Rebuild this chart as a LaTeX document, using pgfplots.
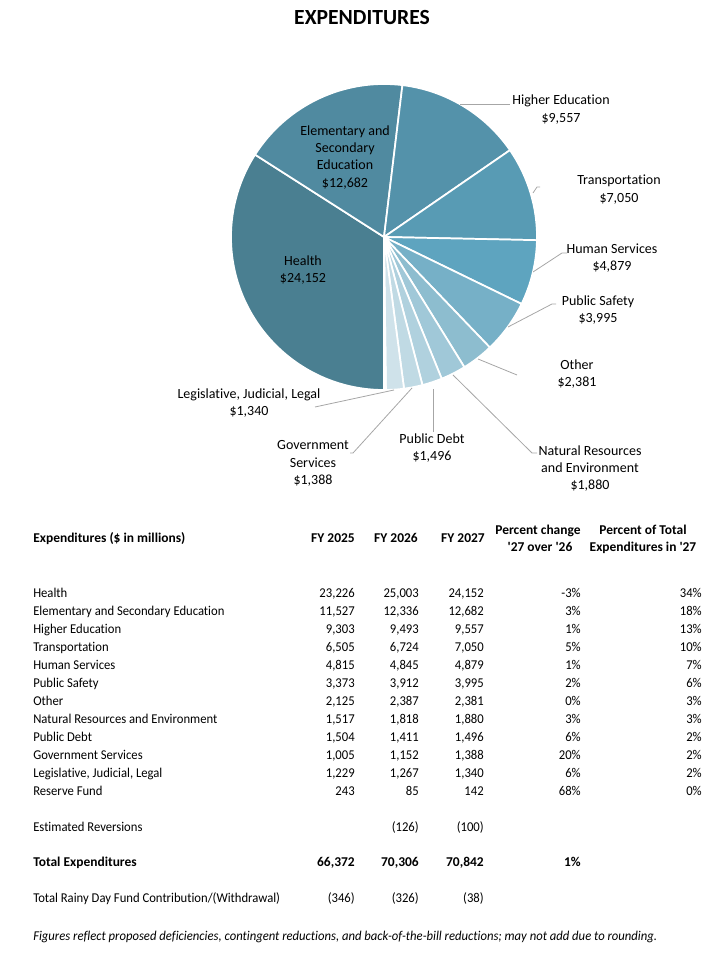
\documentclass[border=0pt]{standalone}
\usepackage{pgfplots}
\pgfplotsset{compat=1.18}
\usepackage{pgfplotstable}
\usepackage{fontspec}
\setmainfont[Ligatures=NoCommon]{Carlito}
\newfontfamily\tabfont[Ligatures=NoCommon,FakeStretch=0.94]{Carlito}

\definecolor{c0}{RGB}{74,127,145}
\definecolor{c1}{RGB}{80,138,160}
\definecolor{c2}{RGB}{84,146,170}
\definecolor{c3}{RGB}{88,155,180}
\definecolor{c4}{RGB}{94,164,191}
\definecolor{c5}{RGB}{118,176,199}
\definecolor{c6}{RGB}{141,189,207}
\definecolor{c7}{RGB}{160,200,216}
\definecolor{c8}{RGB}{176,209,222}
\definecolor{c9}{RGB}{192,218,228}
\definecolor{c10}{RGB}{207,226,234}
\definecolor{c11}{RGB}{222,235,241}
\definecolor{lead}{RGB}{166,166,166}

% FY 2027 expenditures ($ millions) shown in the pie
\pgfplotstableread[col sep=semicolon]{
name;v
Health;24152
Elementary and Secondary Education;12682
Higher Education;9557
Transportation;7050
Human Services;4879
Public Safety;3995
Other;2381
Natural Resources and Environment;1880
Public Debt;1496
Government Services;1388
Legislative, Judicial, Legal;1340
Reserve Fund;142
}\piedata

\pgfplotstablegetrowsof{\piedata}
\pgfmathtruncatemacro\N{\pgfplotsretval-1}
\gdef\tot{0}
\foreach \i in {0,...,\N}{\pgfplotstablegetelem{\i}{v}\of\piedata\xdef\tot{\fpeval{\tot+\pgfplotsretval}}}
\gdef\cur{270}
\foreach \i in {0,...,\N}{%
  \pgfplotstablegetelem{\i}{v}\of\piedata
  \expandafter\xdef\csname ps\i\endcsname{\cur}%
  \xdef\cur{\fpeval{round(\cur-360*\pgfplotsretval/\tot,4)}}%
  \expandafter\xdef\csname pe\i\endcsname{\cur}}

\newcommand\lab[3]{\node[anchor=base,inner sep=0pt,font=\fontsize{10.5}{12}\selectfont] at (axis cs:#1,-#2) {#3};}
\newcommand\tf{\fontsize{10.1}{12}\selectfont}
\newcommand\tr{\tabfont\fontsize{10.1}{12}\selectfont}
\newcommand\trow[7]{%
  \node[anchor=base west,inner sep=0pt,font=\tr] at (axis cs:33,-#1) {#2};
  \node[anchor=base east,inner sep=0pt,font=\tr] at (axis cs:355,-#1) {#3};
  \node[anchor=base east,inner sep=0pt,font=\tr] at (axis cs:419,-#1) {#4};
  \node[anchor=base east,inner sep=0pt,font=\tr] at (axis cs:484,-#1) {#5};
  \node[anchor=base east,inner sep=0pt,font=\tr] at (axis cs:581,-#1) {#6};
  \node[anchor=base east,inner sep=0pt,font=\tr] at (axis cs:702,-#1) {#7};}

\begin{document}
\begin{tikzpicture}
\begin{axis}[x=0.75pt, y=0.75pt, xmin=0, xmax=720, ymin=-956, ymax=0,
  hide axis, clip=false]
\draw[draw=none] (axis cs:0,0) rectangle (axis cs:720,-956);
% pie slices
\pgfplotsinvokeforeach{0,...,11}{
  \fill[c#1, draw=white, line width=1.3pt, line join=round]
    (axis cs:384,-237) -- ++(\csname ps#1\endcsname:114.75pt)
    arc[start angle=\csname ps#1\endcsname, end angle=\csname pe#1\endcsname, radius=114.75pt] -- cycle;
}
% title
\node[anchor=base,inner sep=0pt,font=\fontsize{16.2}{18}\selectfont\bfseries] at (axis cs:362,-25) {EXPENDITURES};
% leader lines
\begin{scope}[lead, line width=0.6pt]
\draw (axis cs:460,-104) -- (axis cs:510,-104);
\draw (axis cs:533,-193) -- (axis cs:537,-187) -- (axis cs:540,-187);
\draw (axis cs:533,-272) -- (axis cs:562,-253) -- (axis cs:567,-253);
\draw (axis cs:508,-327) -- (axis cs:552,-304) -- (axis cs:556,-304);
\draw (axis cs:478,-359) -- (axis cs:517,-375);
\draw (axis cs:453,-375) -- (axis cs:532,-453) -- (axis cs:537,-453);
\draw (axis cs:433,-389) -- (axis cs:433,-432);
\draw (axis cs:412,-388) -- (axis cs:353,-453) -- (axis cs:350,-453);
\draw (axis cs:394,-390) -- (axis cs:315,-407);
\end{scope}
% pie labels
\lab{303}{265.5}{Health}\lab{303}{282.5}{\$24,152}
\lab{345}{136}{Elementary and}\lab{345}{153}{Secondary}\lab{345}{170}{Education}\lab{345}{187.5}{\$12,682}
\lab{561}{105}{Higher Education}\lab{561}{123}{\$9,557}
\lab{619}{185}{Transportation}\lab{619}{203}{\$7,050}
\lab{612}{254}{Human Services}\lab{612}{271}{\$4,879}
\lab{598}{306}{Public Safety}\lab{598}{323}{\$3,995}
\lab{577}{370}{Other}\lab{577}{387}{\$2,381}
\lab{590}{456}{Natural Resources}\lab{590}{473}{and Environment}\lab{590}{490}{\$1,880}
\lab{432}{444}{Public Debt}\lab{432}{461}{\$1,496}
\lab{313}{450}{Government}\lab{313}{468}{Services}\lab{313}{485}{\$1,388}
\lab{249}{399}{Legislative, Judicial, Legal}\lab{249}{416}{\$1,340}
% table header
\node[anchor=base west,inner sep=0pt,font=\tf\bfseries] at (axis cs:33,-543) {Expenditures (\$ in millions)};
\node[anchor=base east,inner sep=0pt,font=\tf\bfseries] at (axis cs:355,-543) {FY 2025};
\node[anchor=base east,inner sep=0pt,font=\tf\bfseries] at (axis cs:418,-543) {FY 2026};
\node[anchor=base east,inner sep=0pt,font=\tf\bfseries] at (axis cs:485,-543) {FY 2027};
\node[anchor=base,inner sep=0pt,font=\tf\bfseries] at (axis cs:538,-535) {Percent change};
\node[anchor=base,inner sep=0pt,font=\tf\bfseries] at (axis cs:540,-552) {\textquotesingle 27 over \textquotesingle 26};
\node[anchor=base,inner sep=0pt,font=\tf\bfseries] at (axis cs:643,-535) {Percent of Total};
\node[anchor=base,inner sep=0pt,font=\tf\bfseries] at (axis cs:643,-552) {Expenditures in \textquotesingle 27};
% table rows
\trow{598}{Health}{23,226}{25,003}{24,152}{-3\%}{34\%}
\trow{616}{Elementary and Secondary Education}{11,527}{12,336}{12,682}{3\%}{18\%}
\trow{634}{Higher Education}{9,303}{9,493}{9,557}{1\%}{13\%}
\trow{652}{Transportation}{6,505}{6,724}{7,050}{5\%}{10\%}
\trow{670}{Human Services}{4,815}{4,845}{4,879}{1\%}{7\%}
\trow{688}{Public Safety}{3,373}{3,912}{3,995}{2\%}{6\%}
\trow{706}{Other}{2,125}{2,387}{2,381}{0\%}{3\%}
\trow{724}{Natural Resources and Environment}{1,517}{1,818}{1,880}{3\%}{3\%}
\trow{742}{Public Debt}{1,504}{1,411}{1,496}{6\%}{2\%}
\trow{760}{Government Services}{1,005}{1,152}{1,388}{20\%}{2\%}
\trow{778}{Legislative, Judicial, Legal}{1,229}{1,267}{1,340}{6\%}{2\%}
\trow{796}{Reserve Fund}{243}{85}{142}{68\%}{0\%}
\trow{832}{Estimated Reversions}{}{(126)}{(100)}{}{}
\node[anchor=base west,inner sep=0pt,font=\tf\bfseries] at (axis cs:33,-867) {Total Expenditures};
\node[anchor=base east,inner sep=0pt,font=\tf\bfseries] at (axis cs:355,-867) {66,372};
\node[anchor=base east,inner sep=0pt,font=\tf\bfseries] at (axis cs:419,-867) {70,306};
\node[anchor=base east,inner sep=0pt,font=\tf\bfseries] at (axis cs:484,-867) {70,842};
\node[anchor=base east,inner sep=0pt,font=\tf\bfseries] at (axis cs:581,-867) {1\%};
\trow{903}{Total Rainy Day Fund Contribution/(Withdrawal)}{(346)}{(326)}{(38)}{}{}
\node[anchor=base west,inner sep=0pt,font=\tr\itshape] at (axis cs:33,-940) {Figures reflect proposed deficiencies, contingent reductions, and back-of-the-bill reductions; may not add due to rounding.};
\end{axis}
\end{tikzpicture}
\end{document}
